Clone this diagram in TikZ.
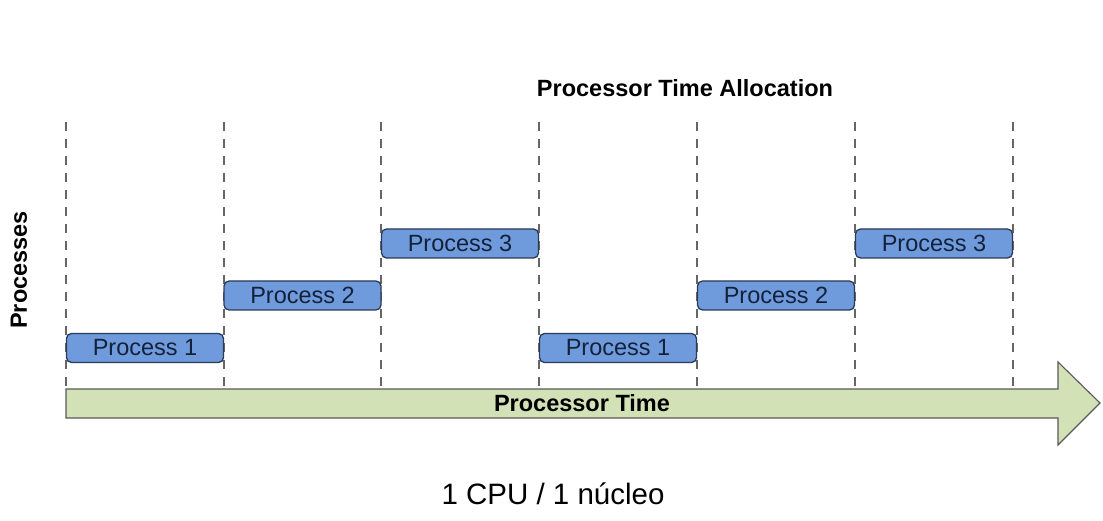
\documentclass[tikz,border=0pt]{standalone}
\usepackage{fontspec}
\setmainfont{Liberation Sans}
\begin{document}
\begin{tikzpicture}[x=1pt,y=-1pt,
  proc/.style={draw=procedge, line width=1.3pt, fill=procblue, rounded corners=5pt,
    text=proctext, minimum width=157pt, minimum height=29pt, inner sep=0pt,
    font=\fontsize{23.5}{23.5}\selectfont},
  slot/.style={draw=black!60, dash pattern=on 9pt off 8pt, line width=1.6pt}]
\definecolor{procblue}{HTML}{6F9BDC}
\definecolor{procedge}{HTML}{2B3A55}
\definecolor{proctext}{HTML}{14213A}
\definecolor{arrowgreen}{HTML}{D3E2B6}
\useasboundingbox (0,0) rectangle (1103,521);
% time slot boundaries
\foreach \i/\x in {0/66,1/224,2/381,3/539,4/697,5/855,6/1013}
  \coordinate (t\i) at (\x,122);
\foreach \i in {0,...,6}
  \draw[slot] (t\i) -- ++(0,266);
% time axis arrow
\draw[draw=black!65, fill=arrowgreen, line width=1.1pt]
  (66,389) -- (1058,389) -- (1058,362) -- (1100,403) -- (1058,445) -- (1058,418) -- (66,418) -- cycle;
\node[font=\fontsize{23.5}{23.5}\selectfont\bfseries] (axis) at (582,403) {Processor Time};
% process time slices
\node[proc] (p1a) at (145,348) {Process 1};
\node[proc] (p2a) at (302.5,295.5) {Process 2};
\node[proc] (p3a) at (460,243.5) {Process 3};
\node[proc] (p1b) at (618,348) {Process 1};
\node[proc] (p2b) at (776,295.5) {Process 2};
\node[proc] (p3b) at (934,243.5) {Process 3};
% labels
\node[font=\fontsize{23.5}{23.5}\selectfont\bfseries] (title) at (685,88) {Processor Time Allocation};
\node[font=\fontsize{23.5}{23.5}\selectfont\bfseries, rotate=90] (ylab) at (19,270) {Processes};
\node[font=\fontsize{29.5}{29.5}\selectfont] (caption) at (553,494) {1 CPU / 1 núcleo};
\end{tikzpicture}
\end{document}
